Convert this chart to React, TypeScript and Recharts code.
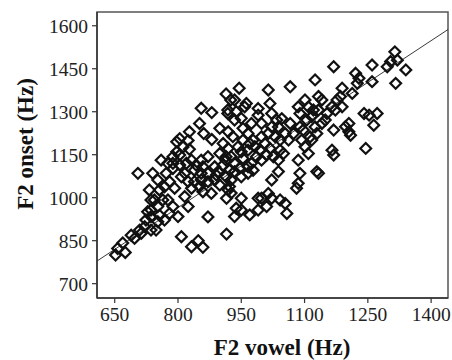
import React from "react";
import {
  ScatterChart,
  Scatter,
  XAxis,
  YAxis,
  ReferenceLine,
  ReferenceArea,
} from "recharts";

// F2 vowel (Hz) — x values
const VOWEL_F2 = [
  652, 675, 657, 669, 689, 709, 721, 736, 724, 736, 752, 736, 736, 732, 752, 756, 780, 800,
  740, 705, 760, 752, 772, 788, 780, 792, 768, 756, 764, 855, 851, 880, 861, 880, 899, 827,
  804, 797, 824, 812, 797, 804, 827, 788, 776, 788, 804, 820, 832, 843, 859, 871, 816, 808,
  824, 839, 855, 871, 887, 851, 832, 816, 859, 879, 899, 891, 914, 907, 922, 914, 899, 907,
  824, 871, 808, 832, 848, 859, 915, 915, 926, 922, 914, 925, 945, 934, 938, 918, 958, 962,
  950, 934, 918, 990, 990, 1014, 1018, 1022, 998, 974, 966, 954, 954, 942, 930, 919, 926, 914,
  934, 954, 966, 982, 978, 998, 1014, 1030, 1006, 1018, 1042, 1038, 1022, 1046, 1034, 1066,
  1066, 1042, 998, 986, 974, 966, 950, 946, 919, 934, 950, 938, 934, 950, 970, 990, 990, 998,
  1010, 1022, 1022, 1038, 1042, 1054, 1058, 1014, 1085, 1089, 1089, 1101, 1109, 1105, 1117,
  1121, 1133, 1125, 1133, 1141, 1125, 1113, 1097, 1109, 1085, 1089, 1085, 1081, 1129, 1133,
  1153, 1165, 1169, 1165, 1169, 1177, 1169, 1185, 1189, 1197, 1205, 1205, 1209, 1213, 1221,
  1225, 1229, 1241, 1245, 1253, 1260, 1260, 1264, 1272, 1296, 1304, 1314, 1320, 1316, 1340,
  950, 970, 994, 1010, 1026, 1038, 1050, 1054, 1062, 1074, 1093, 1101, 1117, 1129, 1141, 1149,
  1173, 1189, 966, 978, 926, 919, 839, 855, 887, 895, 871, 855, 713, 748, 768, 776, 788, 744,
  728, 697,
];

// F2 onset (Hz) — y values
const ONSET_F2 = [
  800, 809, 823, 842, 869, 887, 899, 887, 922, 934, 916, 957, 992, 1027, 969, 939, 945, 934,
  1085, 1085, 1131, 1062, 1085, 1120, 1056, 1033, 1038, 1027, 992, 1312, 1259, 1297, 1224, 1203,
  1242, 1230, 1206, 1195, 1200, 1177, 1160, 1149, 1169, 1143, 1120, 1102, 1114, 1120, 1131,
  1114, 1108, 1085, 1085, 1073, 1056, 1056, 1062, 1056, 1062, 1039, 1033, 1004, 1021, 1015,
  1044, 1079, 1073, 1114, 1096, 1143, 1154, 1189, 969, 933, 864, 829, 850, 827, 873, 998, 1016,
  1039, 1362, 1341, 1382, 1341, 1300, 1294, 1317, 1329, 1277, 1271, 1306, 1311, 1288, 1376,
  1329, 1294, 1259, 1259, 1224, 1242, 1201, 1177, 1213, 1172, 1143, 1131, 1120, 1137, 1166,
  1178, 1201, 1213, 1224, 1213, 1189, 1172, 1201, 1247, 1247, 1276, 1271, 1387, 1259, 1166,
  1131, 1143, 1120, 1108, 1073, 1103, 1230, 1091, 998, 963, 934, 957, 940, 998, 957, 998, 969,
  998, 1062, 1091, 992, 980, 945, 1015, 1317, 1247, 1294, 1341, 1317, 1271, 1283, 1306, 1353,
  1411, 1306, 1341, 1247, 1212, 1236, 1154, 1131, 1085, 1050, 1033, 1091, 1085, 1294, 1317,
  1236, 1166, 1149, 1341, 1457, 1353, 1382, 1248, 1259, 1230, 1218, 1364, 1434, 1399, 1417,
  1294, 1172, 1288, 1463, 1405, 1253, 1294, 1457, 1475, 1509, 1480, 1399, 1446,
  1160, 1189, 1166, 1149, 1143, 1131, 1154, 1224, 1201, 1224, 1201, 1178, 1201, 1224, 1259,
  1271, 1306, 1317, 1085, 1096, 1062, 1027, 1096, 1085, 1108, 1091, 1143, 1131, 876, 887, 922,
  992, 969, 992, 951, 858,
];

const X_TICKS = [650, 800, 950, 1100, 1250, 1400];
const Y_TICKS = [700, 850, 1000, 1150, 1300, 1450, 1600];
const X_DOMAIN: [number, number] = [608, 1440];
const Y_DOMAIN: [number, number] = [650, 1648];

// Fitted regression line: onset = intercept + slope * vowel
const REG_INTERCEPT = 188.6;
const REG_SLOPE = 0.971;

const X_TITLE = "F2 vowel (Hz)";
const Y_TITLE = "F2 onset (Hz)";

const data = VOWEL_F2.map((v, i) => ({ vowel: v, onset: ONSET_F2[i] }));

const FONT = "'Liberation Serif', 'Times New Roman', serif";

const Diamond = (props: any) => {
  const { cx, cy } = props;
  if (cx == null || cy == null) return null;
  const r = 5.4;
  return (
    <path
      d={`M${cx},${cy - r}L${cx + r},${cy}L${cx},${cy + r}L${cx - r},${cy}Z`}
      fill="none"
      stroke="#111"
      strokeWidth={2.2}
    />
  );
};

const XTitle = () => (
  <text
    x={282}
    y={355}
    textAnchor="middle"
    fontFamily={FONT}
    fontWeight="bold"
    fontSize={23}
    fill="#111"
  >
    {X_TITLE}
  </text>
);

const YTitle = () => (
  <text
    x={0}
    y={0}
    transform="translate(33,144) rotate(-90)"
    textAnchor="middle"
    fontFamily={FONT}
    fontWeight="bold"
    fontSize={23}
    fill="#111"
  >
    {Y_TITLE}
  </text>
);

const tickStyle = { fontFamily: FONT, fontSize: 19.5, fill: "#222" };

export default function App() {
  const regSegment = [
    { x: X_DOMAIN[0], y: REG_INTERCEPT + REG_SLOPE * X_DOMAIN[0] },
    { x: X_DOMAIN[1], y: REG_INTERCEPT + REG_SLOPE * X_DOMAIN[1] },
  ];
  return (
    <div
      style={{
        position: "absolute",
        left: 0,
        top: 0,
        width: 452,
        height: 360,
        background: "#fff",
      }}
    >
      <ScatterChart
        width={452}
        height={360}
        margin={{ top: 12, right: 4, bottom: 0, left: 0 }}
      >
        <ReferenceArea
          x1={X_DOMAIN[0]}
          x2={X_DOMAIN[1]}
          y1={Y_DOMAIN[0]}
          y2={Y_DOMAIN[1]}
          fill="none"
          fillOpacity={0}
          stroke="#555"
          strokeWidth={1.5}
        />
        <XAxis
          type="number"
          dataKey="vowel"
          domain={X_DOMAIN}
          ticks={X_TICKS}
          allowDataOverflow
          height={62}
          tickSize={5}
          tickMargin={4}
          tick={tickStyle}
          axisLine={{ stroke: "#333", strokeWidth: 1.5 }}
          tickLine={{ stroke: "#333", strokeWidth: 1.2 }}
          label={<XTitle />}
        />
        <YAxis
          type="number"
          dataKey="onset"
          domain={Y_DOMAIN}
          ticks={Y_TICKS}
          allowDataOverflow
          width={97}
          tickSize={5}
          tickMargin={4}
          tick={tickStyle}
          axisLine={{ stroke: "#333", strokeWidth: 1.5 }}
          tickLine={{ stroke: "#333", strokeWidth: 1.2 }}
          label={<YTitle />}
        />
        <ReferenceLine
          segment={regSegment}
          stroke="#222"
          strokeWidth={0.9}
          ifOverflow="hidden"
        />
        <Scatter
          data={data}
          shape={<Diamond />}
          isAnimationActive={false}
        />
      </ScatterChart>
    </div>
  );
}
